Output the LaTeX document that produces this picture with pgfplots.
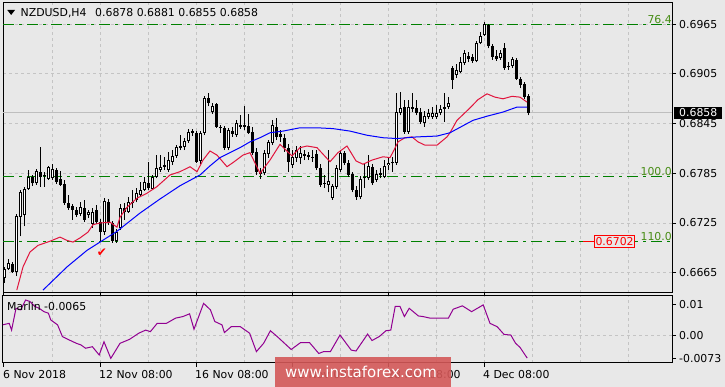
\documentclass[border=0pt]{standalone}
\usepackage{fontspec}
\setmainfont{DejaVu Sans}
\usepackage{pgfplots}
\usepackage{pgfplotstable}
\pgfplotsset{compat=1.18}

\definecolor{bg}{RGB}{232,232,232}
\definecolor{gridc}{RGB}{196,196,196}
\definecolor{fibg}{RGB}{0,128,0}
\definecolor{fibt}{RGB}{70,140,20}
\definecolor{mared}{RGB}{225,20,60}
\definecolor{mablue}{RGB}{0,0,255}
\definecolor{marlin}{RGB}{145,0,145}
\definecolor{wm}{RGB}{212,88,88}
\definecolor{pline}{RGB}{190,190,190}

\newcommand{\ff}{\fontsize{10.9}{12}\selectfont}

\pgfplotstableread{
x o h l c
0 0.6659 0.6672 0.6653 0.6669
1 0.6669 0.6682 0.6668 0.6677
2 0.6675 0.6678 0.6665 0.6666
3 0.6666 0.6736 0.6661 0.6733
4 0.6732 0.6765 0.6709 0.6762
5 0.6735 0.6769 0.6721 0.6766
6 0.6766 0.6789 0.6765 0.6781
7 0.6781 0.6783 0.6770 0.6773
8 0.6773 0.6790 0.6771 0.6788
9 0.6787 0.6817 0.6769 0.6781
10 0.6782 0.6787 0.6769 0.6783
11 0.6778 0.6794 0.6777 0.6793
12 0.6779 0.6796 0.6777 0.6790
13 0.6789 0.6791 0.6772 0.6775
14 0.6778 0.6788 0.6770 0.6771
15 0.6772 0.6777 0.6747 0.6749
16 0.6749 0.6759 0.6741 0.6743
17 0.6746 0.6748 0.6729 0.6741
18 0.6741 0.6744 0.6732 0.6735
19 0.6736 0.6750 0.6733 0.6744
20 0.6743 0.6753 0.6726 0.6729
21 0.6735 0.6741 0.6731 0.6738
22 0.6724 0.6743 0.6719 0.6738
23 0.6741 0.6747 0.6724 0.6726
24 0.6726 0.6730 0.6702 0.6714
25 0.6714 0.6755 0.6711 0.6752
26 0.6750 0.6754 0.6723 0.6725
27 0.6725 0.6727 0.6701 0.6703
28 0.6703 0.6718 0.6701 0.6714
29 0.6719 0.6748 0.6717 0.6743
30 0.6743 0.6749 0.6729 0.6738
31 0.6738 0.6756 0.6737 0.6750
32 0.6750 0.6765 0.6743 0.6749
33 0.6753 0.6767 0.6750 0.6761
34 0.6759 0.6775 0.6756 0.6765
35 0.6765 0.6781 0.6764 0.6775
36 0.6773 0.6799 0.6765 0.6767
37 0.6766 0.6783 0.6765 0.6781
38 0.6781 0.6807 0.6779 0.6791
39 0.6789 0.6807 0.6787 0.6793
40 0.6795 0.6805 0.6789 0.6793
41 0.6789 0.6811 0.6787 0.6801
42 0.6799 0.6813 0.6795 0.6806
43 0.6806 0.6819 0.6804 0.6817
44 0.6816 0.6831 0.6813 0.6818
45 0.6817 0.6828 0.6813 0.6824
46 0.6824 0.6839 0.6822 0.6835
47 0.6836 0.6839 0.6830 0.6834
48 0.6834 0.6836 0.6798 0.6799
49 0.6800 0.6836 0.6796 0.6834
50 0.6834 0.6878 0.6831 0.6876
51 0.6876 0.6882 0.6866 0.6870
52 0.6859 0.6870 0.6857 0.6866
53 0.6869 0.6870 0.6840 0.6841
54 0.6841 0.6843 0.6834 0.6840
55 0.6840 0.6842 0.6813 0.6816
56 0.6816 0.6840 0.6813 0.6837
57 0.6836 0.6841 0.6829 0.6833
58 0.6831 0.6849 0.6829 0.6846
59 0.6843 0.6855 0.6839 0.6841
60 0.6841 0.6866 0.6837 0.6843
61 0.6842 0.6857 0.6833 0.6834
62 0.6835 0.6841 0.6807 0.6810
63 0.6811 0.6816 0.6783 0.6787
64 0.6787 0.6791 0.6778 0.6784
65 0.6785 0.6813 0.6783 0.6810
66 0.6808 0.6825 0.6804 0.6823
67 0.6822 0.6849 0.6819 0.6843
68 0.6841 0.6852 0.6825 0.6829
69 0.6833 0.6837 0.6823 0.6829
70 0.6828 0.6833 0.6811 0.6816
71 0.6816 0.6820 0.6787 0.6799
72 0.6795 0.6813 0.6791 0.6805
73 0.6804 0.6818 0.6799 0.6813
74 0.6804 0.6818 0.6796 0.6810
75 0.6808 0.6813 0.6801 0.6806
76 0.6807 0.6811 0.6801 0.6805
77 0.6805 0.6813 0.6799 0.6804
78 0.6808 0.6813 0.6789 0.6791
79 0.6791 0.6796 0.6769 0.6771
80 0.6773 0.6783 0.6767 0.6772
81 0.6771 0.6813 0.6762 0.6776
82 0.6755 0.6772 0.6753 0.6770
83 0.6769 0.6795 0.6766 0.6791
84 0.6789 0.6813 0.6787 0.6810
85 0.6810 0.6812 0.6795 0.6798
86 0.6798 0.6801 0.6781 0.6783
87 0.6784 0.6787 0.6762 0.6765
88 0.6765 0.6770 0.6753 0.6756
89 0.6756 0.6782 0.6754 0.6778
90 0.6779 0.6798 0.6767 0.6780
91 0.6779 0.6807 0.6777 0.6794
92 0.6793 0.6796 0.6771 0.6773
93 0.6777 0.6789 0.6775 0.6784
94 0.6783 0.6791 0.6779 0.6785
95 0.6781 0.6801 0.6779 0.6794
96 0.6795 0.6805 0.6789 0.6798
97 0.6799 0.6805 0.6787 0.6797
98 0.6798 0.6882 0.6795 0.6859
99 0.6858 0.6883 0.6855 0.6864
100 0.6865 0.6874 0.6833 0.6835
101 0.6835 0.6874 0.6833 0.6865
102 0.6865 0.6882 0.6859 0.6863
103 0.6864 0.6874 0.6855 0.6858
104 0.6859 0.6864 0.6845 0.6847
105 0.6846 0.6860 0.6841 0.6854
106 0.6853 0.6863 0.6851 0.6858
107 0.6853 0.6865 0.6851 0.6858
108 0.6853 0.6868 0.6851 0.6858
109 0.6858 0.6868 0.6855 0.6863
110 0.6863 0.6882 0.6847 0.6865
111 0.6865 0.6877 0.6863 0.6870
112 0.6912 0.6915 0.6887 0.6898
113 0.6904 0.6917 0.6900 0.6910
114 0.6907 0.6926 0.6906 0.6919
115 0.6918 0.6934 0.6916 0.6930
116 0.6927 0.6932 0.6919 0.6923
117 0.6926 0.6929 0.6918 0.6921
118 0.6921 0.6945 0.6919 0.6942
119 0.6942 0.6956 0.6941 0.6951
120 0.6952 0.6968 0.6951 0.6965
121 0.6964 0.6965 0.6936 0.6939
122 0.6939 0.6941 0.6922 0.6926
123 0.6927 0.6934 0.6921 0.6923
124 0.6924 0.6934 0.6922 0.6930
125 0.6936 0.6942 0.6910 0.6912
126 0.6915 0.6919 0.6910 0.6913
127 0.6915 0.6926 0.6912 0.6923
128 0.6922 0.6924 0.6898 0.6899
129 0.6899 0.6901 0.6888 0.6892
130 0.6893 0.6895 0.6875 0.6877
131 0.6878 0.6881 0.6855 0.6858
}\candles

\pgfplotstableread{
x y
3.2 0.6644
4.75 0.6672
6.5 0.6690
8.5 0.6698
11.5 0.6703
14 0.6708
15.75 0.6704
17.25 0.6702
19 0.6707
21 0.6714
22.25 0.6723
24 0.6725
26.5 0.6726
28.25 0.6720
29 0.6732
30.75 0.6744
33.25 0.6755
35.75 0.6761
38.25 0.6769
41.5 0.6783
44 0.6787
46.5 0.6793
48.25 0.6787
49.75 0.6801
51.5 0.6812
53.25 0.6807
55.75 0.6793
57.25 0.6798
59.75 0.6807
61.5 0.6810
64 0.6785
66.5 0.6801
69 0.6820
72 0.6806
74 0.6816
75.75 0.6818
78.25 0.6816
81.5 0.6799
83.5 0.6810
85.75 0.6818
88 0.6800
89.75 0.6796
92 0.6801
94.75 0.6805
96.5 0.6804
97.5 0.6813
98.5 0.6823
100.25 0.6828
102 0.6829
103.5 0.6823
105.25 0.6819
108.25 0.6819
110.75 0.6829
111.5 0.6834
113.25 0.6849
116.5 0.6864
118.5 0.6874
120.75 0.6881
122.75 0.6877
124.75 0.6875
127 0.6878
129 0.6877
130.75 0.6871
}\redma

\pgfplotstableread{
x y
9.75 0.6644
15.75 0.6672
20.75 0.6692
24 0.6702
28.25 0.6715
34 0.6737
39 0.6754
44 0.6770
49 0.6783
51.5 0.6794
54 0.6804
59 0.6816
61.5 0.6823
64 0.6828
66.5 0.6834
69.75 0.6836
74 0.6840
78.25 0.6840
82.25 0.6839
86.5 0.6836
90.75 0.6831
94.75 0.6828
98.25 0.6827
103.25 0.6829
108.25 0.6830
111.5 0.6834
117.25 0.6849
120.75 0.6854
124.75 0.6859
128.25 0.6865
130.75 0.6865
}\bluema

\pgfplotstableread{
x y
-0.4 0.0035
1.3 0.0040
1.9 0.0018
3.0 0.0089
4.2 0.0084
5.4 0.0116
6.5 0.0111
7.7 0.0095
8.8 0.0089
10 0.0078
11.1 0.0073
11.7 0.0051
13.4 0.0035
14.6 -0.0003
16.3 -0.0014
18.1 -0.0025
19.2 -0.0030
20.4 -0.0041
22.1 -0.0036
23.8 -0.0063
25 -0.0020
26.7 -0.0074
29 -0.0025
31.4 -0.0012
33.7 0.0008
35.4 0.0018
36.6 0.0013
38.3 0.0040
40.6 0.0040
42.9 0.0057
44.7 0.0062
46.4 0.0071
47.5 0.0021
49.9 0.0105
51.6 0.0084
52.7 0.0046
54.5 0.0035
55.1 0.0010
56.8 0.0029
59.1 0.0029
61.4 0.0008
63.1 -0.0052
64.9 -0.0025
66.6 0.0016
68.3 -0.0003
71.8 -0.0045
74.1 -0.0023
76.4 -0.0023
78.7 -0.0058
79.9 -0.0052
81.6 -0.0052
84 0.0002
86.8 -0.0047
88 -0.0050
90.9 0.0005
92 -0.0016
93.8 -0.0003
95.5 0.0016
96.7 0.0018
97.8 0.0095
99 0.0095
100.1 0.0062
101.3 0.0089
103.6 0.0064
104.8 0.0062
106.5 0.0057
108.8 0.0057
111.1 0.0057
112.3 0.0086
114.6 0.0097
116.9 0.0078
119.8 0.0100
121.5 0.0040
123.3 0.0029
125 0.0004
126.7 0.0002
127.9 -0.0025
129 -0.0038
130.8 -0.0073
}\marlindata

\begin{document}
\begin{tikzpicture}
\path[use as bounding box] (0pt,0pt) rectangle (725pt,387pt);
\fill[bg] (0pt,0pt) rectangle (725pt,387pt);

\begin{axis}[
  at={(3pt,94pt)}, anchor=south west,
  scale only axis, width=669pt, height=290pt,
  xmin=-0.25, xmax=167, ymin=0.66405, ymax=0.69907,
  axis line style={black, line width=1pt},
  axis background/.style={fill=bg},
  xtick={12,24,...,156}, xticklabels={},
  xtick style={draw=none},
  ytick={0.6665,0.6725,0.6785,0.6845,0.6905,0.6965},
  yticklabels={0.6665,0.6725,0.6785,0.6845,0.6905,0.6965},
  scaled y ticks=false,
  ytick pos=right,
  ytick style={black, line width=1pt},
  tick align=outside, major tick length=4pt,
  yticklabel style={font=\ff, anchor=west, inner sep=0pt, xshift=3pt},
  grid=major, grid style={gridc, dash pattern=on 3pt off 3pt, line width=1pt},
  clip mode=individual,
  /pgf/number format/assume math mode=true,
]
\addplot[pline, line width=1pt] coordinates {(-0.25,0.6858) (167,0.6858)};
\addplot[fibg, line width=1.3pt, dash pattern=on 11pt off 5pt on 3pt off 5pt] coordinates {(-0.25,0.6965) (167,0.6965)};
\addplot[fibg, line width=1.3pt, dash pattern=on 11pt off 5pt on 3pt off 5pt] coordinates {(-0.25,0.6781) (167,0.6781)};
\addplot[fibg, line width=1.3pt, dash pattern=on 11pt off 5pt on 3pt off 5pt] coordinates {(-0.25,0.67025) (167,0.67025)};
\addplot[red, line width=1pt] coordinates {(144.75,0.67025) (147.5,0.67025)};

\addplot[draw=none, mark=none, error bars/.cd, y dir=plus, y explicit, error mark=none,
  error bar style={draw=black, line width=1pt, solid}]
  table[x=x, y=l, y error expr={\thisrow{h}-\thisrow{l}}] {\candles};
\addplot[draw=none, mark=none, error bars/.cd, y dir=plus, y explicit, error mark=none,
  error bar style={draw=black, line width=3pt, solid}]
  table[x=x, y expr={min(\thisrow{o},\thisrow{c})}, y error expr={max(abs(\thisrow{c}-\thisrow{o}),0.0001)}] {\candles};
\addplot[draw=none, mark=none, error bars/.cd, y dir=plus, y explicit, error mark=none,
  error bar style={draw=white, line width=1pt, solid}]
  table[x=x, y expr={\thisrow{o}+0.00012}, y error expr={(\thisrow{c}>\thisrow{o})*max(\thisrow{c}-\thisrow{o}-0.00024,0)}] {\candles};

\addplot[mared, line width=1pt] table[x=x, y=y] {\redma};
\addplot[mablue, line width=1pt] table[x=x, y=y] {\bluema};

\addplot[red, only marks, mark=text, text mark={\fontsize{12}{12}\selectfont\textcolor{red}{✔}}] coordinates {(24.5,0.6689)};

\node[fibt, font=\ff, anchor=base east, inner sep=0pt, yshift=1pt] at (axis cs:167,0.6965) {76.4};
\node[fibt, font=\ff, anchor=base east, inner sep=0pt, yshift=1pt] at (axis cs:167,0.6781) {100.0};
\node[fibt, font=\ff, anchor=base east, inner sep=0pt, yshift=1pt] at (axis cs:167,0.67025) {110.0};
\node[draw=red, fill=bg, text=red, font=\ff, anchor=west, inner xsep=1pt, inner ysep=2pt, line width=1pt] at (axis cs:147.5,0.67025) {0.6702};
\node[fill=black, text=white, font=\ff, anchor=west, inner xsep=5pt, inner ysep=1.7pt, xshift=2pt] at (axis cs:167,0.6858) {0.6858};
\end{axis}

\begin{axis}[
  at={(3pt,24pt)}, anchor=south west,
  scale only axis, width=669pt, height=67pt,
  xmin=-0.25, xmax=167, ymin=-0.0089, ymax=0.0129,
  axis line style={black, line width=1pt},
  axis background/.style={fill=bg},
  xtick={12,24,...,156}, xticklabels={},
  xtick style={draw=none},
  xmajorgrids, grid style={gridc, dash pattern=on 3pt off 3pt, line width=1pt},
  extra x ticks={0,24,48,72,96,120},
  extra x tick labels={6 Nov 2018,12 Nov 08:00,16 Nov 08:00,22 Nov 08:00,28 Nov 08:00,4 Dec 08:00},
  extra x tick style={grid=none, xtick style={draw=black, line width=1pt}},
  xticklabel style={font=\ff, anchor=base west, inner sep=0pt, xshift=-1pt, yshift=-11.5pt},
  ytick={-0.0073,0,0.01}, yticklabels={-0.0073,0.00,0.01},
  scaled y ticks=false,
  ytick pos=right,
  ytick style={black, line width=1pt},
  tick align=outside, major tick length=4pt,
  yticklabel style={font=\ff, anchor=west, inner sep=0pt, xshift=3pt},
  clip mode=individual,
]
\addplot[gridc, dash pattern=on 3pt off 3pt, line width=1pt] coordinates {(-0.25,0) (167,0)};
\addplot[marlin, line width=1pt] table[x=x, y=y] {\marlindata};
\end{axis}

\fill[black] (7.3pt,377pt) -- (15pt,377pt) -- (11.15pt,372pt) -- cycle;
\node[anchor=base west, inner sep=0pt, font=\ff] at (20.5pt,370.3pt) {NZDUSD,H4};
\node[anchor=base west, inner sep=0pt, font=\ff] at (95pt,370.3pt) {0.6878 0.6881 0.6855 0.6858};
\node[anchor=base west, inner sep=0pt, font=\ff] at (7pt,76.3pt) {Marlin -0.0065};

\fill[wm, fill opacity=0.9] (275pt,0pt) rectangle (451pt,30pt);
\node[white, anchor=base, inner sep=0pt, font=\fontsize{15}{15}\selectfont] at (361pt,9.7pt) {www.instaforex.com};
\end{tikzpicture}
\end{document}
